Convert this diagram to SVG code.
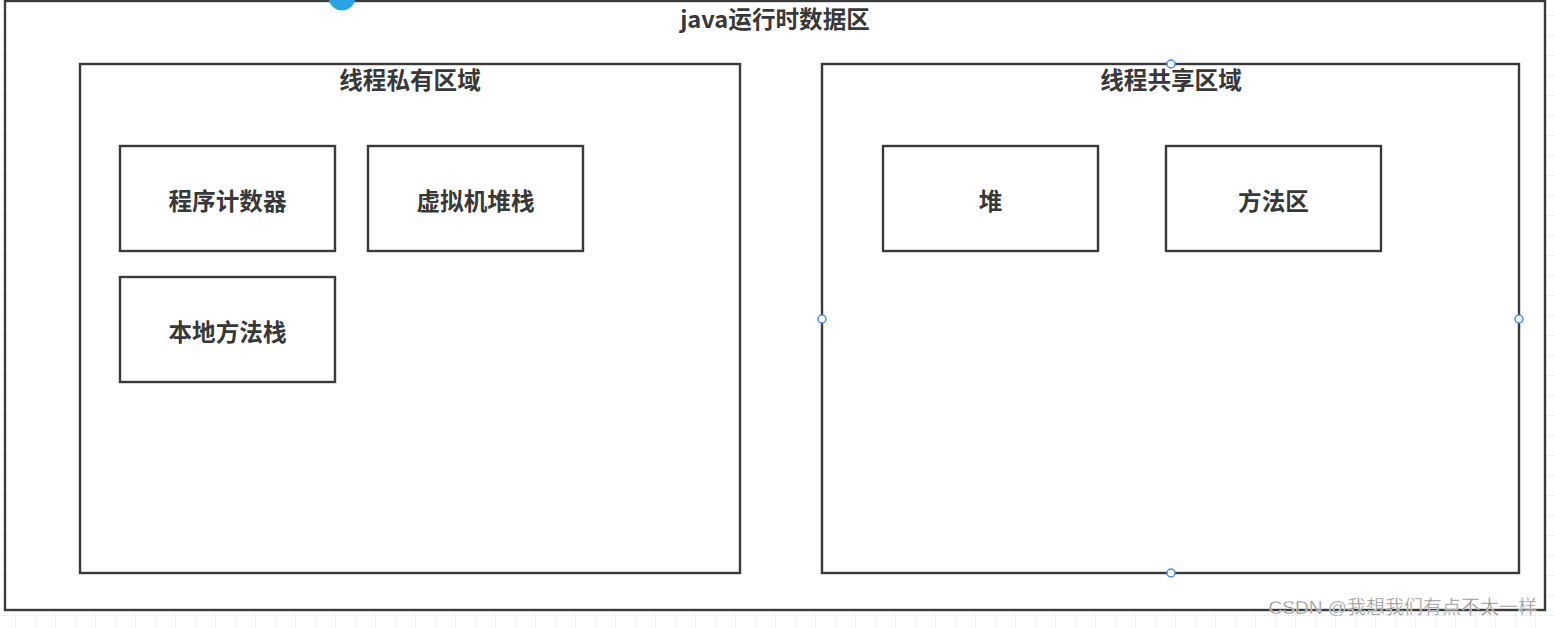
<svg xmlns="http://www.w3.org/2000/svg" width="1554" height="628" viewBox="0 0 1554 628">
<style>
.box{fill:#fff;stroke:#3a3a3a;stroke-width:2.4}
.t{font-family:"Noto Sans CJK SC","Liberation Sans",sans-serif;font-weight:bold;font-size:23.6px;fill:#383838;text-anchor:middle;dominant-baseline:central}
.h{fill:#fff;stroke:#3f8ff0;stroke-width:1.5}
.wm{font-family:"Liberation Sans","Noto Sans CJK SC",sans-serif;font-size:19px;fill:#8a8a8a;stroke:#fff;stroke-width:0.4}
</style>
<defs>
<pattern id="grid" width="20" height="20" patternUnits="userSpaceOnUse" x="15" y="15">
<path d="M0 0H20M0 0V20" fill="none" stroke="#e8e8e8" stroke-width="1"/>
</pattern>
</defs>
<rect width="1554" height="628" fill="#fff"/>
<rect width="1554" height="628" fill="url(#grid)"/>
<g id="runtime-area">
<rect class="box" x="5" y="1" width="1540" height="609"/>
<text class="t" x="775" y="18">java运行时数据区</text>
</g>
<g id="thread-private">
<rect class="box" x="80" y="64" width="660" height="509"/>
<text class="t" x="410" y="79">线程私有区域</text>
</g>
<g id="thread-shared">
<rect class="box" x="822" y="64" width="697" height="509"/>
<text class="t" x="1171" y="79">线程共享区域</text>
</g>
<g id="pc">
<rect class="box" x="120" y="146" width="215" height="105"/>
<text class="t" x="227.5" y="200">程序计数器</text>
</g>
<g id="vm-stack">
<rect class="box" x="368" y="146" width="215" height="105"/>
<text class="t" x="475.5" y="200">虚拟机堆栈</text>
</g>
<g id="native-stack">
<rect class="box" x="120" y="277" width="215" height="105"/>
<text class="t" x="227.5" y="331">本地方法栈</text>
</g>
<g id="heap">
<rect class="box" x="883" y="146" width="215" height="105"/>
<text class="t" x="990.5" y="200">堆</text>
</g>
<g id="method-area">
<rect class="box" x="1166" y="146" width="215" height="105"/>
<text class="t" x="1273.5" y="200">方法区</text>
</g>
<g id="connectors"></g>
<g id="handles">
<circle cx="342" cy="-3" r="13.5" fill="#29a3e6"/>
<circle class="h" cx="1171" cy="64" r="4"/>
<circle class="h" cx="822" cy="319" r="4"/>
<circle class="h" cx="1519" cy="319" r="4"/>
<circle class="h" cx="1171" cy="573" r="4"/>
</g>
<text class="wm" x="1537" y="614" text-anchor="end">CSDN @我想我们有点不太一样</text>
</svg>
